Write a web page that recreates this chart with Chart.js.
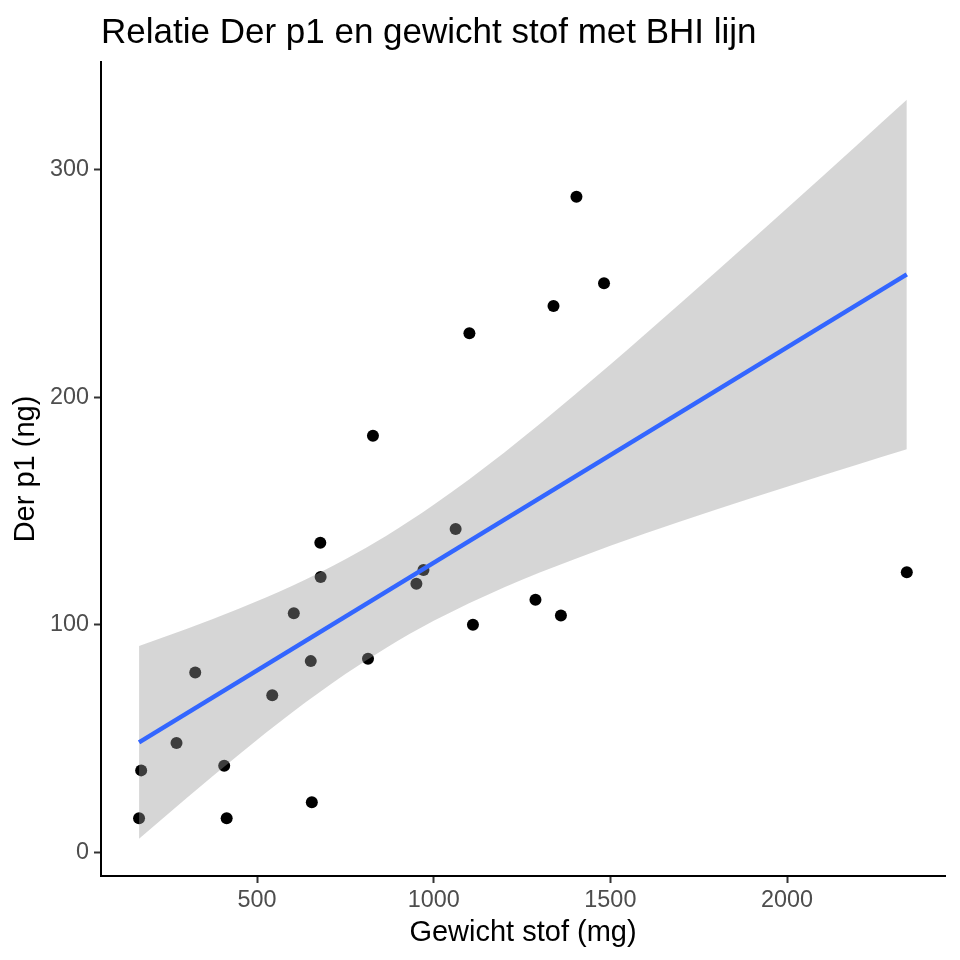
<!DOCTYPE html>
<html>
<head>
<meta charset="utf-8">
<script src="https://cdn.jsdelivr.net/npm/chart.js@4.4.1/dist/chart.umd.min.js"></script>
<style>
  body { margin: 0; background: #fff; }
  #wrap { width: 960px; height: 960px; }
</style>
</head>
<body>
<div id="wrap"><canvas id="myChart" width="960" height="960"></canvas></div>
<script>
const titel = "Relatie Der p1 en gewicht stof met BHI lijn";

// meetpunten (gewicht stof in mg, Der p1 in ng)
const gewicht = [166, 172, 272, 325, 407, 414, 543, 604, 652, 655, 679, 680, 814, 828, 951, 971, 1062, 1101, 1111, 1288, 1339, 1360, 1404, 1482, 2339];
const derp1 = [15, 36, 48, 79, 38, 15, 69, 105, 84, 22, 136, 121, 85, 183, 118, 124, 142, 228, 100, 111, 240, 104, 288, 250, 123];

const lijnX = [166, 2339];
const lijnY = [48.3, 253.9];
const bandX = [166, 300, 450, 600, 750, 865, 1000, 1200, 1400, 1600, 1800, 2000, 2200, 2339];
const bandBoven = [90.6, 98.1, 107.1, 117.1, 128.7, 139.0, 152.7, 175.7, 201.1, 227.8, 255.2, 283.0, 311.0, 330.6];
const bandOnder = [6.0, 23.8, 43.1, 61.5, 78.3, 89.8, 101.7, 116.5, 128.9, 140.2, 150.6, 160.6, 170.4, 177.1];

const xTicks = [500, 1000, 1500, 2000];
const yTicks = [0, 100, 200, 300];

const fontFam = '"Liberation Sans", Arial, Helvetica, sans-serif';
Chart.defaults.font.family = fontFam;

const toPoints = (xs, ys) => xs.map((x, i) => ({ x: x, y: ys[i] }));

const titelPlugin = {
  id: 'titel',
  afterDraw(chart) {
    const ctx = chart.ctx;
    ctx.save();
    ctx.font = '35px ' + fontFam;
    ctx.fillStyle = '#000000';
    ctx.textBaseline = 'alphabetic';
    ctx.fillText(titel, 101, 43);
    ctx.restore();
  }
};

const axisGrid = {
  display: true,
  drawOnChartArea: false,
  drawTicks: true,
  tickLength: 7,
  tickColor: '#333333',
  tickWidth: 2
};

const myChart = new Chart("myChart", {
  type: "scatter",
  data: {
    datasets: [
      {
        type: 'line',
        data: toPoints(lijnX, lijnY),
        borderColor: '#3366FF',
        borderWidth: 4.5,
        pointRadius: 0,
        fill: false,
        order: 0
      },
      {
        type: 'line',
        data: toPoints(bandX, bandBoven),
        borderColor: 'transparent',
        borderWidth: 0,
        pointRadius: 0,
        backgroundColor: 'rgba(153,153,153,0.4)',
        fill: '+1',
        cubicInterpolationMode: 'monotone',
        order: 1
      },
      {
        type: 'line',
        data: toPoints(bandX, bandOnder),
        borderColor: 'transparent',
        borderWidth: 0,
        pointRadius: 0,
        fill: false,
        cubicInterpolationMode: 'monotone',
        order: 1
      },
      {
        type: 'scatter',
        data: toPoints(gewicht, derp1),
        backgroundColor: '#000000',
        borderWidth: 0,
        pointRadius: 6,
        order: 2
      }
    ]
  },
  options: {
    responsive: false,
    animation: false,
    layout: { padding: { top: 62, right: 15, left: 0, bottom: 0 } },
    plugins: {
      legend: { display: false },
      tooltip: { enabled: false }
    },
    scales: {
      x: {
        type: 'linear',
        min: 58.3,
        max: 2447.1,
        afterBuildTicks: s => { s.ticks = xTicks.map(v => ({ value: v })); },
        afterFit: s => { s.height = 84; },
        grid: axisGrid,
        border: { display: true, color: '#000000', width: 2 },
        ticks: {
          color: '#4D4D4D',
          font: { size: 23.4 },
          padding: 4,
          maxRotation: 0,
          callback: v => String(v)
        },
        title: {
          display: true,
          text: 'Gewicht stof (mg)',
          color: '#000000',
          font: { size: 29 },
          padding: { top: 0, bottom: 10 }
        }
      },
      y: {
        type: 'linear',
        min: -10.4,
        max: 347.2,
        afterBuildTicks: s => { s.ticks = yTicks.map(v => ({ value: v })); },
        afterFit: s => { s.width = 101; },
        grid: axisGrid,
        border: { display: true, color: '#000000', width: 2 },
        ticks: {
          color: '#4D4D4D',
          font: { size: 23.4 },
          padding: 5,
          callback: v => String(v)
        },
        title: {
          display: true,
          text: 'Der p1 (ng)',
          color: '#000000',
          font: { size: 29 },
          padding: { top: 9, bottom: 0 }
        }
      }
    }
  },
  plugins: [titelPlugin]
});
</script>
</body>
</html>
